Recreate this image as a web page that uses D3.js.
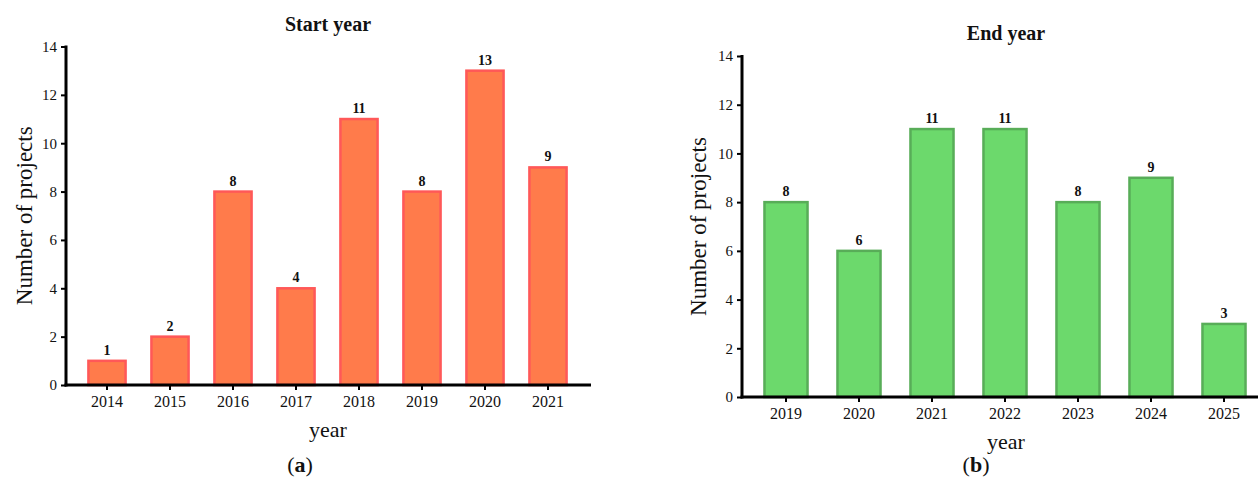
<!DOCTYPE html>
<html>
<head>
<meta charset="utf-8">
<script src="https://cdn.jsdelivr.net/npm/d3@7"></script>
<style>
  body { margin: 0; background: #fff; }
  svg text { font-family: "Liberation Serif", "DejaVu Serif", serif; fill: #111; }
</style>
</head>
<body>
<svg id="chart" width="1260" height="486"></svg>
<script>
const startYears = ['2014', '2015', '2016', '2017', '2018', '2019', '2020', '2021'];
const startCounts = [1, 2, 8, 4, 11, 8, 13, 9];
const endYears = ['2019', '2020', '2021', '2022', '2023', '2024', '2025'];
const endCounts = [8, 6, 11, 11, 8, 9, 3];
const yTicks = [0, 2, 4, 6, 8, 10, 12, 14];

const svg = d3.select('#chart');

function drawPanel(opts) {
    const g = svg.append('g');
    const x = d3.scaleBand()
        .domain(opts.categories)
        .range([opts.x0, opts.x1])
        .paddingInner(0.41)
        .paddingOuter(0.205);
    const y = d3.scaleLinear()
        .domain([0, 14])
        .range([opts.y0, opts.y1]);

    // bars
    g.selectAll('.bar')
        .data(opts.values)
        .enter().append('rect')
        .attr('class', 'bar')
        .attr('x', (d, i) => x(opts.categories[i]))
        .attr('y', d => y(d))
        .attr('width', x.bandwidth())
        .attr('height', d => y(0) - y(d))
        .attr('fill', opts.fill)
        .attr('stroke', opts.stroke)
        .attr('stroke-width', 2.5);

    // value labels
    g.selectAll('.val')
        .data(opts.values)
        .enter().append('text')
        .attr('x', (d, i) => x(opts.categories[i]) + x.bandwidth() / 2)
        .attr('y', d => y(d) - 6)
        .attr('text-anchor', 'middle')
        .style('font-size', '14px')
        .style('font-weight', 'bold')
        .text(d => d);

    // y axis
    const ya = g.append('g')
        .attr('transform', `translate(${opts.axisX},0)`)
        .call(d3.axisLeft(y).tickValues(yTicks).tickSize(5).tickPadding(4));
    ya.select('.domain').remove();
    ya.selectAll('line').attr('stroke', '#000').attr('stroke-width', 2);
    ya.selectAll('text').style('font-size', '15px').style('font-family', '"Liberation Serif", serif');
    g.append('line')
        .attr('x1', opts.axisX).attr('x2', opts.axisX)
        .attr('y1', y(14) - 1).attr('y2', y(0) + 1.5)
        .attr('stroke', '#000').attr('stroke-width', 3);

    // x axis
    const xa = g.append('g')
        .attr('transform', `translate(0,${y(0)})`)
        .call(d3.axisBottom(x).tickSize(5).tickPadding(6));
    xa.select('.domain').remove();
    xa.selectAll('line').attr('stroke', '#000').attr('stroke-width', 2);
    xa.selectAll('text').style('font-size', '16px').style('font-family', '"Liberation Serif", serif');
    g.append('line')
        .attr('x1', opts.axisX - 1.5).attr('x2', opts.axisEnd)
        .attr('y1', y(0)).attr('y2', y(0))
        .attr('stroke', '#000').attr('stroke-width', 3);

    // title
    g.append('text')
        .attr('x', opts.titleX)
        .attr('y', opts.titleY)
        .attr('text-anchor', 'middle')
        .style('font-size', '20px')
        .style('font-weight', 'bold')
        .text(opts.title);

    // x label
    g.append('text')
        .attr('x', opts.titleX)
        .attr('y', y(0) + 52)
        .attr('text-anchor', 'middle')
        .style('font-size', '22px')
        .text('year');

    // y label
    g.append('text')
        .attr('transform', `translate(${opts.yLabelX},${(y(0) + y(14)) / 2}) rotate(-90)`)
        .attr('text-anchor', 'middle')
        .style('font-size', '23px')
        .text('Number of projects');

    // panel letter
    const lab = g.append('text')
        .attr('x', opts.letterX)
        .attr('y', 472)
        .attr('text-anchor', 'middle')
        .style('font-size', '22px');
    lab.append('tspan').text('(');
    lab.append('tspan').style('font-weight', 'bold').text(opts.letter);
    lab.append('tspan').text(')');
}

drawPanel({
    categories: startYears, values: startCounts,
    x0: 75.5, x1: 579.5, y0: 385, y1: 46.5,
    axisX: 66, axisEnd: 591,
    fill: '#ff7b4b', stroke: '#ff5858',
    title: 'Start year', titleX: 328, titleY: 31,
    yLabelX: 32, letterX: 300, letter: 'a'
});

drawPanel({
    categories: endYears, values: endCounts,
    x0: 749.5, x1: 1260.5, y0: 397, y1: 56,
    axisX: 742, axisEnd: 1258,
    fill: '#6cd96c', stroke: '#58ad58',
    title: 'End year', titleX: 1006, titleY: 40,
    yLabelX: 706, letterX: 976, letter: 'b'
});
</script>
</body>
</html>
